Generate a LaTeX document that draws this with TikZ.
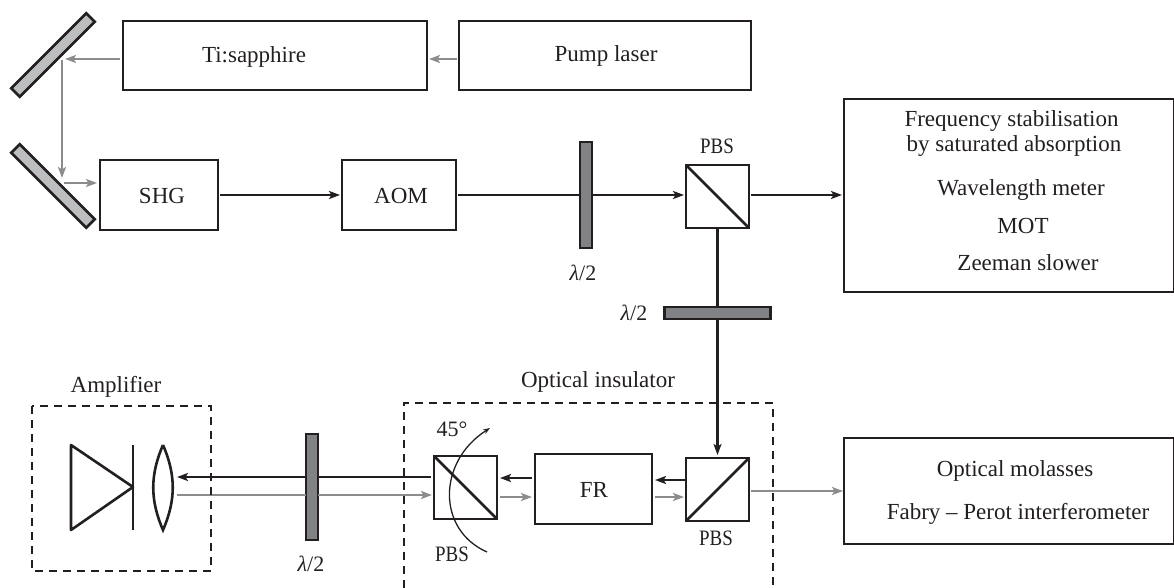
\documentclass[tikz,border=0pt]{standalone}
\usepackage{fontspec}
\setmainfont{Liberation Serif}
\newfontfamily\tagfont[FakeStretch=0.86]{Liberation Serif}
\usetikzlibrary{arrows.meta}
\definecolor{inkdark}{HTML}{231F20}
\definecolor{raygray}{HTML}{8A8C8E}
\definecolor{platefill}{HTML}{808285}
\definecolor{mirrorfill}{HTML}{BCBEC0}
\tikzset{
    unit/.style={draw=inkdark,line width=2.6pt,outer sep=0pt,inner sep=0pt},
    cube/.style={unit,minimum width=63pt,minimum height=63pt},
    plate/.style={draw=inkdark,line width=2.6pt,fill=platefill,outer sep=0pt,inner sep=0pt},
    mirror/.style={draw=inkdark,line width=2.6pt,fill=mirrorfill,outer sep=0pt,inner sep=0pt,minimum width=106pt,minimum height=12pt},
    caption/.style={text=inkdark,inner sep=0pt,anchor=base,font=\fontsize{23}{25}\selectfont},
    pbstag/.style={text=inkdark,inner sep=0pt,anchor=base,font=\tagfont\fontsize{22}{24}\selectfont},
    waveplate/.style={text=inkdark,inner sep=0pt,anchor=base,font=\fontsize{22}{24}\selectfont},
    beam/.style={draw=inkdark,line width=2.6pt},
    ray/.style={draw=raygray,line width=2.6pt},
    tip/.style={-{Stealth[length=11pt,width=8pt,inset=2.5pt]}},
    frame/.style={draw=inkdark,line width=2.4pt,dash pattern=on 8pt off 6pt}
}
\begin{document}
\begin{tikzpicture}[x=1pt,y=-1pt]
    \useasboundingbox (0,0) rectangle (1174,588);
    \node[mirror,rotate=45] (mirrorup) at (53,55) {};
    \node[mirror,rotate=-45] (mirrorlow) at (53,186) {};
    \node[unit,minimum width=304pt,minimum height=69pt] (tisa) at (275,55.5) {};
    \node[caption] at (254,63) {Ti:sapphire};
    \node[unit,minimum width=292pt,minimum height=69pt] (pump) at (605,55.5) {};
    \node[caption] at (606,62) {Pump laser};
    \node[unit,minimum width=118pt,minimum height=70pt] (shg) at (159,195) {};
    \node[caption] at (162,204) {SHG};
    \node[unit,minimum width=114pt,minimum height=70pt] (aom) at (399,195) {};
    \node[caption] at (401,204) {AOM};
    \node[plate,minimum width=12pt,minimum height=106pt] (platea) at (586,195) {};
    \node[cube] (pbsa) at (717.5,196.5) {};
    \node[pbstag] (pbsalabel) at (717,153.5) {PBS};
    \node[waveplate] (lambdaa) at (583,280) {{\itshape λ}/2};
    \node[unit,minimum width=330pt,minimum height=193pt] (outa) at (1009,195.5) {};
    \node[caption] at (1011.5,127) {Frequency stabilisation};
    \node[caption] at (1014,152) {by saturated absorption};
    \node[caption] at (1021,195) {Wavelength meter};
    \node[caption] at (1023,233) {MOT};
    \node[caption] at (1028,270) {Zeeman slower};
    \node[plate,minimum width=106pt,minimum height=12pt] (plateb) at (717.5,313) {};
    \node[waveplate] (lambdab) at (634,320) {{\itshape λ}/2};
    \node[cube] (pbsc) at (717.5,489.5) {};
    \node[pbstag] (pbsclabel) at (716,545.5) {PBS};
    \node[unit,minimum width=117pt,minimum height=70pt] (fr) at (593.5,489) {};
    \node[caption] at (594,497) {FR};
    \node[cube] (pbsb) at (465.5,487.5) {};
    \node[pbstag] (pbsblabel) at (452,561.5) {PBS};
    \node[waveplate] (angle) at (452,436) {45°};
    \node[plate,minimum width=12pt,minimum height=106pt] (platec) at (312,487) {};
    \node[waveplate] (lambdac) at (311,571) {{\itshape λ}/2};
    \node[unit,minimum width=330pt,minimum height=106pt] (outb) at (1009,491) {};
    \node[caption] at (1015,476) {Optical molasses};
    \node[caption] at (1018,519) {Fabry – Perot interferometer};
    \node[caption] (amplabel) at (116,392) {Amplifier};
    \node[caption] (isolabel) at (598,387) {Optical insulator};
    \coordinate (foldin) at (65,59);
    \coordinate (foldup) at (62,60);
    \coordinate (foldlow) at (62,178);
    \coordinate (foldout) at (64,183);
    \coordinate (lensbeam) at (177,477);
    \coordinate (lensray) at (177,495);

    \draw[ray,tip] ([yshift=-3.5pt,xshift=-2pt]pump.west) -- ([yshift=-3.5pt,xshift=2pt]tisa.east);
    \draw[ray,tip] ([yshift=-3.5pt,xshift=-3pt]tisa.west) -- (foldin);
    \draw[ray,tip] (foldup) -- (foldlow);
    \draw[ray,tip] (foldout) -- ([xshift=-3pt]foldout -| shg.west);
    \draw[beam,tip] ([xshift=2pt]shg.east) -- ([xshift=-2pt]aom.west);
    \draw[beam] ([xshift=2pt]aom.east) -- (platea.west);
    \draw[beam,tip] (platea.east) -- ([xshift=-2pt,yshift=1.5pt]pbsa.west);
    \draw[beam,tip] ([xshift=2pt,yshift=1.5pt]pbsa.east) -- ([xshift=-2pt,yshift=0.5pt]outa.west);
    \draw[beam] (pbsa.south) -- (plateb.north);
    \draw[beam,tip] (plateb.south) -- ([yshift=3pt]pbsc.north);
    \draw[beam] (pbsa.north west) -- (pbsa.south east);
    \draw[beam] (pbsb.north west) -- (pbsb.south east);
    \draw[beam] (pbsc.south west) -- (pbsc.north east);
    \draw[beam,tip] ([yshift=9.5pt]pbsc.west) -- ([yshift=9pt,xshift=3pt]fr.east);
    \draw[ray,tip] ([yshift=-8pt,xshift=3pt]fr.east) -- ([yshift=-7.5pt,xshift=-2pt]pbsc.west);
    \draw[beam,tip] ([yshift=11pt,xshift=-3pt]fr.west) -- ([yshift=9.5pt,xshift=3pt]pbsb.east);
    \draw[ray,tip] ([xshift=3pt,yshift=-9.5pt]pbsb.east) -- ([yshift=-8pt,xshift=-3pt]fr.west);
    \draw[beam] ([xshift=-3pt,yshift=10.5pt]pbsb.west) -- (platec.east |- lensbeam);
    \draw[beam,tip] (platec.west |- lensbeam) -- (lensbeam);
    \draw[ray] (lensray) -- (platec.west |- lensray);
    \draw[ray,tip] (platec.east |- lensray) -- ([xshift=-2pt]pbsb.west |- lensray);
    \draw[ray,tip] ([xshift=2pt,yshift=-1.5pt]pbsc.east) -- ([xshift=-1pt]outb.west);
    \draw[inkdark,line width=1.3pt,-{Stealth[length=7pt,width=5pt]}] (487,552) .. controls (437,530) and (437,462) .. (490,428);

    \draw[frame] (32,406) rectangle (211,571);
    \draw[frame] (404,588) -- (404,403) -- (773,403) -- (773,588);

    \draw[inkdark,line width=2.6pt,line join=round] (71,445) -- (133,487) -- (71,530) -- cycle;
    \draw[inkdark,line width=2.6pt] (133,445) -- (133,530);
    \draw[inkdark,line width=2.6pt] (163,445) .. controls (150,475) and (150,500) .. (163,530) .. controls (176,500) and (176,475) .. (163,445);
\end{tikzpicture}
\end{document}
